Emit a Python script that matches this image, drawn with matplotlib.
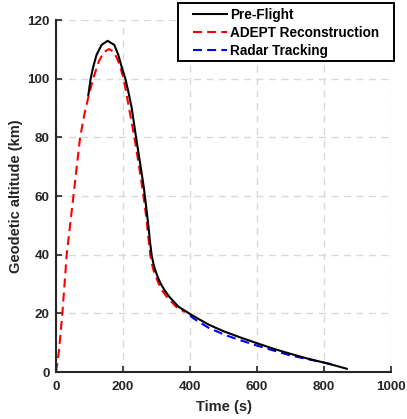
import numpy as np
import matplotlib.pyplot as plt
from matplotlib.patches import Rectangle

plt.rcParams['font.family'] = ['Liberation Sans', 'DejaVu Sans']
plt.rcParams['font.weight'] = 'bold'

# Pre-Flight trajectory (time s, altitude km)
pre_t = [96.5, 103.5, 111, 121, 136, 154, 174, 186, 196, 207, 217, 226, 239, 252,
         262, 270, 276, 281, 286, 291, 296, 304, 312, 325, 338, 365, 400, 430, 455, 500, 550,
         600, 650, 700, 750, 800, 840, 868]
pre_alt = [94.4, 100, 104, 108.1, 111.5, 112.9, 111.5, 108.1, 104, 100, 95, 90, 80, 70.5,
           63, 55.5, 49.6, 44, 39.5, 36.8, 34.8, 32.3, 30.2, 27.7, 25.7, 22.3, 19.8, 17.8, 16.2, 13.9, 11.8,
           9.8, 7.9, 6.2, 4.6, 3.2, 2.0, 1.1]

# ADEPT reconstruction
adept_t = [0, 4, 9, 19, 32, 52, 72, 85, 98, 111, 128, 143, 158, 172, 184, 193, 202,
           211, 222, 234, 248, 258, 267, 272, 277, 282, 287, 292, 300, 307, 318, 330, 358, 385]
adept_alt = [0, 3, 7.5, 20, 40, 60, 80, 88, 94.4, 100, 106, 109, 110.1, 109.2, 106.5, 103.5, 100,
             94.4, 87.5, 80, 70, 62.5, 55, 50, 44.5, 39.5, 36.5, 34.3, 32, 30, 27.6, 25.7, 22.3, 20.4]

# Radar tracking
radar_t = [400, 410, 455, 505, 554, 600, 650, 698, 750, 797, 833]
radar_alt = [19.3, 18.3, 15.1, 12.6, 10.7, 9.0, 7.3, 5.7, 4.4, 3.3, 2.4]

fig = plt.figure(figsize=(4.07, 4.19), dpi=100)
ax = fig.add_axes([56 / 407, 47 / 419, 335 / 407, 352 / 419])

l1, = ax.plot(pre_t, pre_alt, color='black', lw=1.5, zorder=3)
l2, = ax.plot(adept_t, adept_alt, color='red', lw=1.5, dashes=(4.3, 2.5), zorder=2)
l3, = ax.plot(radar_t, radar_alt, color='blue', lw=1.5, dashes=(4.3, 2.5), zorder=2)

ax.set_xlim(0, 1000)
ax.set_ylim(0, 120)
ax.set_xticks(np.arange(0, 1001, 200))
ax.set_yticks(np.arange(0, 121, 20))

dark = '#262626'
ax.grid(True, color='#d9d9d9', linestyle=(0, (5, 4)), lw=1)
ax.set_axisbelow(True)
for s in ['top', 'right']:
    ax.spines[s].set_visible(False)
for s in ['left', 'bottom']:
    ax.spines[s].set_linewidth(1.5)
    ax.spines[s].set_color(dark)
ax.tick_params(direction='in', length=4, width=1.2, colors=dark, labelsize=9.7)
ax.tick_params(axis='x', pad=6.5)
ax.tick_params(axis='y', pad=4.5)

ax.set_xlabel('Time (s)', fontsize=10.5, fontweight='bold', color=dark, labelpad=5)
ax.set_ylabel('Geodetic altitude (km)', fontsize=10.5, fontweight='bold', color=dark, labelpad=3.5)

# legend box (drawn by hand so the side padding can be wider than the top/bottom)
fig.add_artist(Rectangle((178 / 407, 1 - 61 / 419), 216 / 407, 58 / 419,
                         transform=fig.transFigure, facecolor='white',
                         edgecolor='black', lw=1.4, zorder=4))
fig.legend([l1, l2, l3], ['Pre-Flight', 'ADEPT Reconstruction', 'Radar Tracking'],
           loc='upper left', bbox_to_anchor=(193 / 407, 1 - 8 / 419),
           bbox_transform=fig.transFigure, frameon=False, fontsize=9.8,
           borderpad=0, borderaxespad=0, handlelength=2.5, handletextpad=0.22,
           labelspacing=0.3).set_zorder(5)

fig.savefig('out.png', dpi=100)
